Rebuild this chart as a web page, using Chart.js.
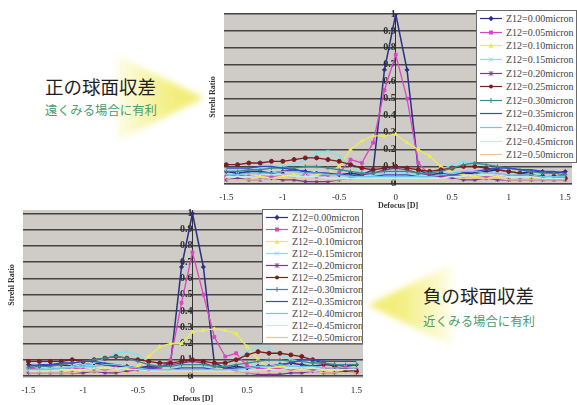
<!DOCTYPE html>
<html><head><meta charset="utf-8">
<script src="https://cdn.jsdelivr.net/npm/chart.js@4.4.1/dist/chart.umd.min.js"></script>
<style>
html,body{margin:0;padding:0;background:#fff;width:577px;height:405px;overflow:hidden;position:relative;font-family:'Liberation Serif',serif}
canvas{position:absolute}
#c1{left:0;top:0}
#c2{left:0;top:200px}
.leg{position:absolute;background:#fff;border:1px solid #6a6a6a;box-sizing:border-box;padding:1px 0 0 3px;overflow:hidden}
.row{display:flex;align-items:center;white-space:nowrap;font-family:'Liberation Serif','Times New Roman',serif;font-size:10px;color:#444}
.row svg{flex:none;margin-right:4px}
.ytitle{position:absolute;width:70px;height:10px;line-height:10px;text-align:center;transform:rotate(-90deg);font:bold 8px 'Liberation Serif',serif;color:#333;white-space:nowrap}
.arrow{position:absolute;filter:blur(3px)}
.arrow div{width:100%;height:100%}
.jp{position:absolute;font-family:'Noto Sans CJK JP',sans-serif;white-space:nowrap;line-height:1}
</style>
</head><body>
<div class="arrow" style="left:116px;top:55px;width:88px;height:86px"><div style="clip-path:polygon(0 0,100% 50%,0 100%);background:linear-gradient(to right,rgba(250,246,170,0.25),#f3ef82 60%,#f0ec70)"></div></div>
<div class="arrow" style="left:368px;top:264px;width:84px;height:82px"><div style="clip-path:polygon(100% 0,0 50%,100% 100%);background:linear-gradient(to left,rgba(250,246,170,0.25),#f3ef82 60%,#f0ec70)"></div></div>
<div class="jp" style="left:45px;top:77px;font-size:18.5px;color:#1e1e1e">正の球面収差</div>
<div class="jp" style="left:45px;top:104px;font-size:12.4px;color:#4a9c70">遠くみる場合に有利</div>
<div class="jp" style="left:423px;top:286px;font-size:18.5px;color:#1e1e1e">負の球面収差</div>
<div class="jp" style="left:423px;top:315px;font-size:12.4px;color:#4a9c70">近くみる場合に有利</div>
<canvas id="c1" width="577" height="212"></canvas>
<canvas id="c2" width="400" height="205"></canvas>
<div class="ytitle" style="left:178px;top:92px">Strehl Ratio</div>
<div class="ytitle" style="left:-23px;top:280px">Strehl Ratio</div>
<div class="leg" id="leg1" style="left:476px;top:10px;width:101px;height:153px"></div>
<div class="leg" id="leg2" style="left:262px;top:209px;width:101px;height:135px"></div>
<script>
// ---- data ----
const defocus = [-1.5,-1.4,-1.3,-1.2,-1.1,-1.0,-0.9,-0.8,-0.7,-0.6,-0.5,-0.4,-0.3,-0.2,-0.1,0,0.1,0.2,0.3,0.4,0.5,0.6,0.7,0.8,0.9,1.0,1.1,1.2,1.3,1.4,1.5];
const xTicks = [-1.5,-1,-0.5,0,0.5,1,1.5];
const xTickLabels = ['-1.5','-1','-0.5','0','0.5','1','1.5'];
const yTicks = [0,0.1,0.2,0.3,0.4,0.5,0.6,0.7,0.8,0.9,1];
const yTickLabels = ['0','0.1','0.2','0.3','0.4','0.5','0.6','0.7','0.8','0.9','1'];

const posLabels = ['Z12=0.00micron','Z12=0.05micron','Z12=0.10micron','Z12=0.15micron','Z12=0.20micron','Z12=0.25micron','Z12=0.30micron','Z12=0.35micron','Z12=0.40micron','Z12=0.45micron','Z12=0.50micron'];
const negLabels = ['Z12=0.00micron','Z12=-0.05micron','Z12=-0.10micron','Z12=-0.15micron','Z12=-0.20micron','Z12=-0.25micron','Z12=-0.30micron','Z12=-0.35micron','Z12=-0.40micron','Z12=-0.45micron','Z12=-0.50micron'];

const z000 = [0.07,0.06,0.07,0.07,0.06,0.07,0.08,0.07,0.06,0.06,0.05,0.06,0.05,0.08,0.67,1.00,0.67,0.08,0.05,0.06,0.05,0.06,0.06,0.07,0.08,0.07,0.06,0.07,0.07,0.06,0.07];

const p005 = [0.04,0.05,0.04,0.05,0.04,0.05,0.04,0.05,0.04,0.05,0.06,0.14,0.12,0.24,0.55,0.76,0.50,0.12,0.05,0.04,0.05,0.04,0.05,0.04,0.05,0.04,0.05,0.04,0.05,0.04,0.05];
const p010 = [0.03,0.04,0.03,0.04,0.03,0.04,0.05,0.04,0.05,0.06,0.10,0.20,0.25,0.28,0.28,0.29,0.24,0.20,0.16,0.10,0.06,0.05,0.04,0.05,0.04,0.03,0.04,0.03,0.04,0.03,0.03];
const p015 = [0.08,0.07,0.08,0.09,0.10,0.10,0.11,0.14,0.18,0.19,0.16,0.10,0.06,0.05,0.06,0.07,0.06,0.05,0.06,0.08,0.11,0.13,0.12,0.10,0.08,0.07,0.06,0.05,0.05,0.04,0.04];
const p020 = [0.02,0.03,0.02,0.02,0.03,0.02,0.02,0.01,0.01,0.01,0.02,0.03,0.05,0.06,0.08,0.09,0.08,0.06,0.05,0.04,0.03,0.02,0.02,0.03,0.02,0.02,0.02,0.02,0.02,0.02,0.02];
const p025 = [0.11,0.11,0.12,0.12,0.13,0.13,0.14,0.15,0.15,0.14,0.13,0.11,0.09,0.08,0.09,0.10,0.09,0.08,0.07,0.08,0.09,0.10,0.10,0.09,0.08,0.07,0.06,0.05,0.04,0.04,0.03];
const p030 = [0.07,0.07,0.08,0.08,0.09,0.09,0.09,0.10,0.10,0.09,0.08,0.07,0.06,0.06,0.07,0.07,0.07,0.06,0.06,0.07,0.09,0.11,0.12,0.11,0.10,0.09,0.08,0.07,0.06,0.06,0.05];
const p035 = [0.09,0.09,0.09,0.10,0.10,0.09,0.08,0.07,0.06,0.06,0.05,0.05,0.04,0.04,0.05,0.05,0.05,0.04,0.04,0.05,0.05,0.06,0.07,0.08,0.09,0.09,0.08,0.08,0.07,0.07,0.06];
const p040 = [0.05,0.05,0.06,0.06,0.06,0.07,0.07,0.06,0.06,0.05,0.05,0.04,0.04,0.04,0.04,0.04,0.04,0.04,0.04,0.05,0.06,0.07,0.07,0.06,0.06,0.05,0.05,0.05,0.04,0.04,0.04];
const p045 = [0.04,0.04,0.04,0.05,0.05,0.05,0.04,0.04,0.04,0.03,0.03,0.03,0.03,0.03,0.03,0.03,0.03,0.03,0.03,0.03,0.04,0.04,0.05,0.05,0.05,0.04,0.04,0.04,0.03,0.03,0.03];
const p050 = [0.02,0.02,0.02,0.02,0.03,0.03,0.03,0.03,0.02,0.02,0.02,0.02,0.02,0.02,0.02,0.02,0.02,0.02,0.02,0.02,0.02,0.03,0.03,0.03,0.03,0.02,0.02,0.02,0.02,0.02,0.02];

const n005 = [0.05,0.04,0.05,0.04,0.05,0.04,0.05,0.04,0.05,0.04,0.05,0.04,0.05,0.10,0.45,0.76,0.50,0.24,0.12,0.14,0.06,0.05,0.04,0.05,0.04,0.05,0.04,0.05,0.04,0.05,0.04];
const n010 = [0.03,0.03,0.04,0.03,0.04,0.03,0.04,0.05,0.04,0.05,0.06,0.12,0.18,0.20,0.20,0.27,0.28,0.29,0.28,0.26,0.18,0.10,0.05,0.06,0.05,0.04,0.05,0.04,0.03,0.04,0.03];
const n015 = [0.04,0.04,0.05,0.05,0.06,0.07,0.08,0.11,0.14,0.15,0.13,0.09,0.06,0.05,0.06,0.07,0.06,0.05,0.06,0.10,0.15,0.18,0.17,0.13,0.10,0.09,0.08,0.08,0.07,0.07,0.08];
const n020 = [0.02,0.02,0.02,0.02,0.02,0.02,0.03,0.02,0.02,0.03,0.04,0.05,0.06,0.07,0.08,0.09,0.08,0.06,0.05,0.03,0.02,0.01,0.01,0.01,0.02,0.02,0.03,0.02,0.02,0.03,0.02];
const n025 = [0.09,0.09,0.09,0.09,0.10,0.09,0.10,0.11,0.12,0.11,0.10,0.09,0.08,0.08,0.09,0.10,0.09,0.08,0.08,0.10,0.13,0.15,0.14,0.14,0.13,0.12,0.10,0.08,0.06,0.04,0.03];
const n030 = [0.05,0.06,0.06,0.07,0.08,0.09,0.10,0.11,0.12,0.11,0.09,0.07,0.06,0.06,0.07,0.07,0.07,0.06,0.06,0.07,0.08,0.09,0.10,0.10,0.09,0.09,0.08,0.08,0.07,0.07,0.07];
const n035 = [0.06,0.07,0.07,0.08,0.08,0.09,0.09,0.08,0.07,0.06,0.05,0.05,0.04,0.04,0.05,0.05,0.05,0.04,0.04,0.05,0.05,0.06,0.06,0.07,0.08,0.10,0.10,0.09,0.09,0.09,0.09];
const n040 = [0.04,0.04,0.04,0.05,0.05,0.06,0.06,0.07,0.07,0.06,0.05,0.04,0.04,0.04,0.04,0.04,0.04,0.04,0.04,0.04,0.05,0.06,0.06,0.07,0.06,0.06,0.06,0.05,0.05,0.05,0.05];
const n045 = [0.03,0.03,0.03,0.04,0.04,0.04,0.05,0.05,0.05,0.04,0.04,0.03,0.03,0.03,0.03,0.03,0.03,0.03,0.03,0.03,0.03,0.04,0.04,0.04,0.05,0.05,0.05,0.04,0.04,0.04,0.04];
const n050 = [0.02,0.02,0.02,0.02,0.02,0.03,0.03,0.03,0.03,0.02,0.02,0.02,0.02,0.02,0.02,0.02,0.02,0.02,0.02,0.02,0.02,0.02,0.02,0.03,0.03,0.03,0.03,0.02,0.02,0.02,0.02];

const posSeries = [z000,p005,p010,p015,p020,p025,p030,p035,p040,p045,p050];
const negSeries = [z000,n005,n010,n015,n020,n025,n030,n035,n040,n045,n050];

// ---- styles ----
const seriesColors = ['#2b3080','#d848c4','#ecec58','#80e2ea','#7a3a8c','#7a1e22','#3a8a8c','#3a48c8','#68c8ea','#bfeef2','#f0c49a'];
const seriesMarkers = ['rectRot','rect','triangle','crossRot','star','circle','cross',false,false,false,false];

const plotBg = {
  id:'plotBg',
  beforeDraw(chart){
    const a = chart.chartArea, c = chart.ctx;
    c.save(); c.fillStyle = '#cfccc7'; c.fillRect(a.left, a.top, a.right-a.left, a.bottom-a.top); c.restore();
  }
};

function makeChart(id, series, labels, pad, xMin, xMax, yMin, yMax){
  const datasets = series.map((vals,i)=>({
    label: labels[i],
    data: defocus.map((x,j)=>({x:x, y:vals[j]})),
    borderColor: seriesColors[i],
    backgroundColor: seriesColors[i],
    borderWidth: i===0 ? 1.5 : 1.3,
    pointStyle: seriesMarkers[i] || 'circle',
    pointRadius: seriesMarkers[i] ? 2 : 0,
    pointBorderWidth: 1,
    tension: 0
  })).reverse();
  return new Chart(document.getElementById(id), {
    type:'line',
    data:{datasets},
    options:{
      responsive:false, animation:false, devicePixelRatio:1,
      layout:{padding:pad},
      plugins:{legend:{display:false}, tooltip:{enabled:false}},
      scales:{
        x:{
          type:'linear', min:xMin, max:xMax,
          afterBuildTicks: s => { s.ticks = xTicks.map(v=>({value:v})); },
          ticks:{ callback:(v,i)=>xTickLabels[i], font:{family:'Liberation Serif', size:9}, color:'#222', padding:7, maxRotation:0, autoSkip:false },
          grid:{ display:false, drawTicks:false },
          border:{ display:false },
          title:{ display:true, text:'Defocus [D]', font:{family:'Liberation Serif', size:8, weight:'bold'}, color:'#333', padding:{top:0,bottom:1} },
          afterFit: s => { s.height = 27; s.paddingLeft = 0; s.paddingRight = 0; }
        },
        y:{
          type:'linear', position:{x:0}, min:yMin, max:yMax,
          afterBuildTicks: s => { s.ticks = yTicks.map(v=>({value:v})); },
          ticks:{ callback:(v,i)=>yTickLabels[i], font:{family:'Liberation Serif', size:10, weight:'bold'}, color:'#2a2a2a', padding:2 },
          grid:{ color:'#444', lineWidth:1.5, drawTicks:false },
          border:{ display:true, color:'#333', width:1 }
        }
      }
    },
    plugins:[plotBg]
  });
}

makeChart('c1', posSeries, posLabels, {left:224, right:1, top:14, bottom:0}, -1.52, 1.56, -0.01, 1.0);
makeChart('c2', negSeries, negLabels, {left:23, right:37, top:10, bottom:0}, -1.55, 1.56, -0.012, 1.02);

function markerSvg(style, color){
  switch(style){
    case 'rectRot': return `<path d="M11 1.8 L13.6 4.5 L11 7.2 L8.4 4.5Z" fill="${color}"/>`;
    case 'rect': return `<rect x="9" y="2.5" width="4" height="4" fill="${color}"/>`;
    case 'triangle': return `<path d="M11 2 L13.6 6.8 L8.4 6.8Z" fill="${color}"/>`;
    case 'crossRot': return `<path d="M9 2.5 L13 6.5 M13 2.5 L9 6.5" stroke="${color}" stroke-width="1"/>`;
    case 'star': return `<path d="M9 2.5 L13 6.5 M13 2.5 L9 6.5 M11 2 L11 7" stroke="${color}" stroke-width="1"/>`;
    case 'circle': return `<circle cx="11" cy="4.5" r="2" fill="${color}"/>`;
    case 'cross': return `<path d="M11 2 L11 7 M8.5 4.5 L13.5 4.5" stroke="${color}" stroke-width="1"/>`;
    default: return '';
  }
}
function buildLegend(id, labels, rowH){
  const el = document.getElementById(id);
  labels.forEach((lab,i)=>{
    const r = document.createElement('div');
    r.className = 'row'; r.style.height = rowH + 'px';
    r.innerHTML = `<svg width="22" height="9"><line x1="0" y1="4.5" x2="22" y2="4.5" stroke="${seriesColors[i]}" stroke-width="1.2"/>${markerSvg(seriesMarkers[i], seriesColors[i])}</svg><span>${lab}</span>`;
    el.appendChild(r);
  });
}
buildLegend('leg1', posLabels, 13.6);
buildLegend('leg2', negLabels, 12.1);
</script>
</body></html>
